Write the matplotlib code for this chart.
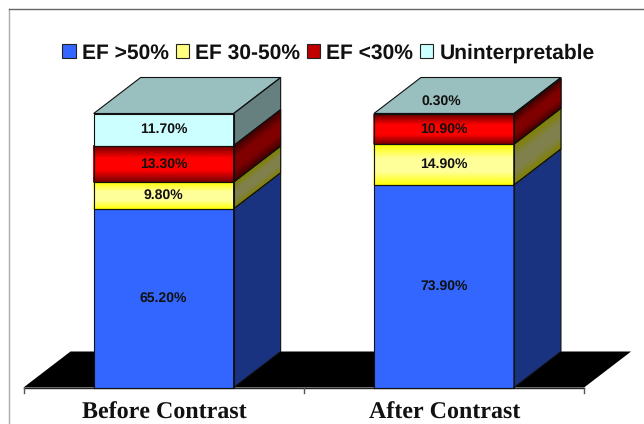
import numpy as np
from matplotlib import pyplot as plt
from matplotlib.colors import LinearSegmentedColormap
from matplotlib.patches import Patch, Polygon

plt.rcParams['text.hinting'] = 'none'
plt.rcParams['text.hinting_factor'] = 1

categories = ['Before Contrast', 'After Contrast']
series_names = ['EF >50%', 'EF 30-50%', 'EF <30%', 'Uninterpretable']
ef_high = [65.2, 73.9]
ef_mid = [9.8, 14.9]
ef_low = [13.3, 10.9]
uninterp = [11.7, 0.3]
series = [ef_high, ef_mid, ef_low, uninterp]

# front colours, side colours, bottom to top
front_cols = [['#3366FF'],
              ['#FFFF00', '#FFFF99', '#FFFF99', '#FFFF00'],
              ['#700000', '#FF0000', '#FF0000', '#700000'],
              ['#CCFFFF']]
side_cols = [['#1A3380'],
             ['#808000', '#80804D', '#80804D', '#808000'],
             ['#400000', '#800000', '#800000', '#400000'],
             ['#668080']]
legend_cols = ['#3366FF', '#FFFF80', '#C00000', '#CCFFFF']
top_col = '#99BFBF'
edge = '#111111'

# pixel layout
W, H = 644, 424
px_x = 280.3        # px per category
px_y = 2.74         # px per percent
x0_px = 23.5
y0_px = 387.5
bar_w = 140 / px_x
dep_x = 47 / px_x
dep_y = 36 / px_y

fig = plt.figure(figsize=(W / 100, H / 100), dpi=100, facecolor='white')
ax = fig.add_axes([0, 0, 1, 1])
ax.set_xlim(-0.5 - x0_px / px_x, -0.5 + (W - x0_px) / px_x)
ax.set_ylim(-(H - y0_px) / px_y, y0_px / px_y)
ax.axis('off')


def gradient(xs, ys, cols, z):
    # quad with a colour ramp running up its height
    if len(cols) == 1:
        ax.fill([xs[0], xs[1], xs[1], xs[0]], [ys[0], ys[1], ys[3], ys[2]],
                color=cols[0], lw=0, zorder=z)
    else:
        cmap = LinearSegmentedColormap.from_list('g', cols)
        t = np.linspace(0, 1, 40)
        X = np.vstack([np.full(40, xs[0]), np.full(40, xs[1])]).T
        Y = np.vstack([ys[0] + t * (ys[2] - ys[0]), ys[1] + t * (ys[3] - ys[1])]).T
        ax.pcolormesh(X, Y, np.vstack([t, t]).T, cmap=cmap, shading='gouraud', zorder=z)
    ax.plot([xs[0], xs[1], xs[1], xs[0], xs[0]],
            [ys[0], ys[1], ys[3], ys[2], ys[0]], color=edge, lw=0.8, zorder=z + 0.5,
            solid_joinstyle='miter')


# floor
ax.add_patch(Polygon([(-0.5, 0), (1.5, 0), (1.5 + dep_x, dep_y), (-0.5 + dep_x, dep_y)],
                     closed=True, color='black', lw=0, zorder=1))

# axis line and ticks
ax.plot([-0.5, 1.5], [0, 0], color='#222222', lw=1, zorder=2)
for t in [-0.5, 0.5, 1.5]:
    ax.plot([t, t], [0, -5 / px_y], color='#555555', lw=1, zorder=2)

for i, name in enumerate(categories):
    x1 = i - bar_w / 2
    x2 = i + bar_w / 2
    base = 0
    for j, vals in enumerate(series):
        top = base + vals[i]
        gradient([x1, x2], [base, base, top, top], front_cols[j], 3 + j * 0.01)
        gradient([x2, x2 + dep_x], [base, base + dep_y, top, top + dep_y], side_cols[j], 3 + j * 0.01)
        base = top
    ax.add_patch(Polygon([(x1, base), (x2, base), (x2 + dep_x, base + dep_y), (x1 + dep_x, base + dep_y)],
                         closed=True, fc=top_col, ec=edge, lw=0.8, zorder=3.2))
    ax.text(i + 0.003, -(412.5 - y0_px) / px_y, name, ha='center', va='center', family='Liberation Serif',
            fontweight='bold', fontsize=17.0, color='#111111', zorder=6)

# value labels
for i in range(len(categories)):
    base = 0
    for vals in series:
        mid = base + vals[i] / 2
        if vals[i] < 1:
            mid = base + 13 / px_y
        ax.text(i + (-0.008 if vals[i] < 1 else 0), mid, '%.2f%%' % vals[i], ha='center', va='center',
                family='Liberation Sans', fontweight='bold', fontsize=10.2, color='#111111', zorder=6)
        base += vals[i]

# outer frame, only top and left show
fig.add_artist(plt.Line2D([9 / W, 9 / W], [0, 1 - 9 / H], color='#AAAAAA', lw=1))
fig.add_artist(plt.Line2D([9 / W, 1], [1 - 9 / H, 1 - 9 / H], color='#666666', lw=1))

handles = [Patch(fc=c, ec='#222222', lw=0.8) for c in legend_cols]
leg = ax.legend(handles, series_names, ncol=4, loc='center', frameon=False,
                bbox_to_anchor=(328.5 / W, 1 - 53 / H), bbox_transform=fig.transFigure,
                prop={'family': 'Liberation Sans', 'weight': 'bold', 'size': 14.9},
                handlelength=0.64, handleheight=0.64, handletextpad=0.3, columnspacing=0.33,
                labelcolor='#111111', borderpad=0)
leg.set_zorder(7)

fig.savefig('out.png', dpi=100)
